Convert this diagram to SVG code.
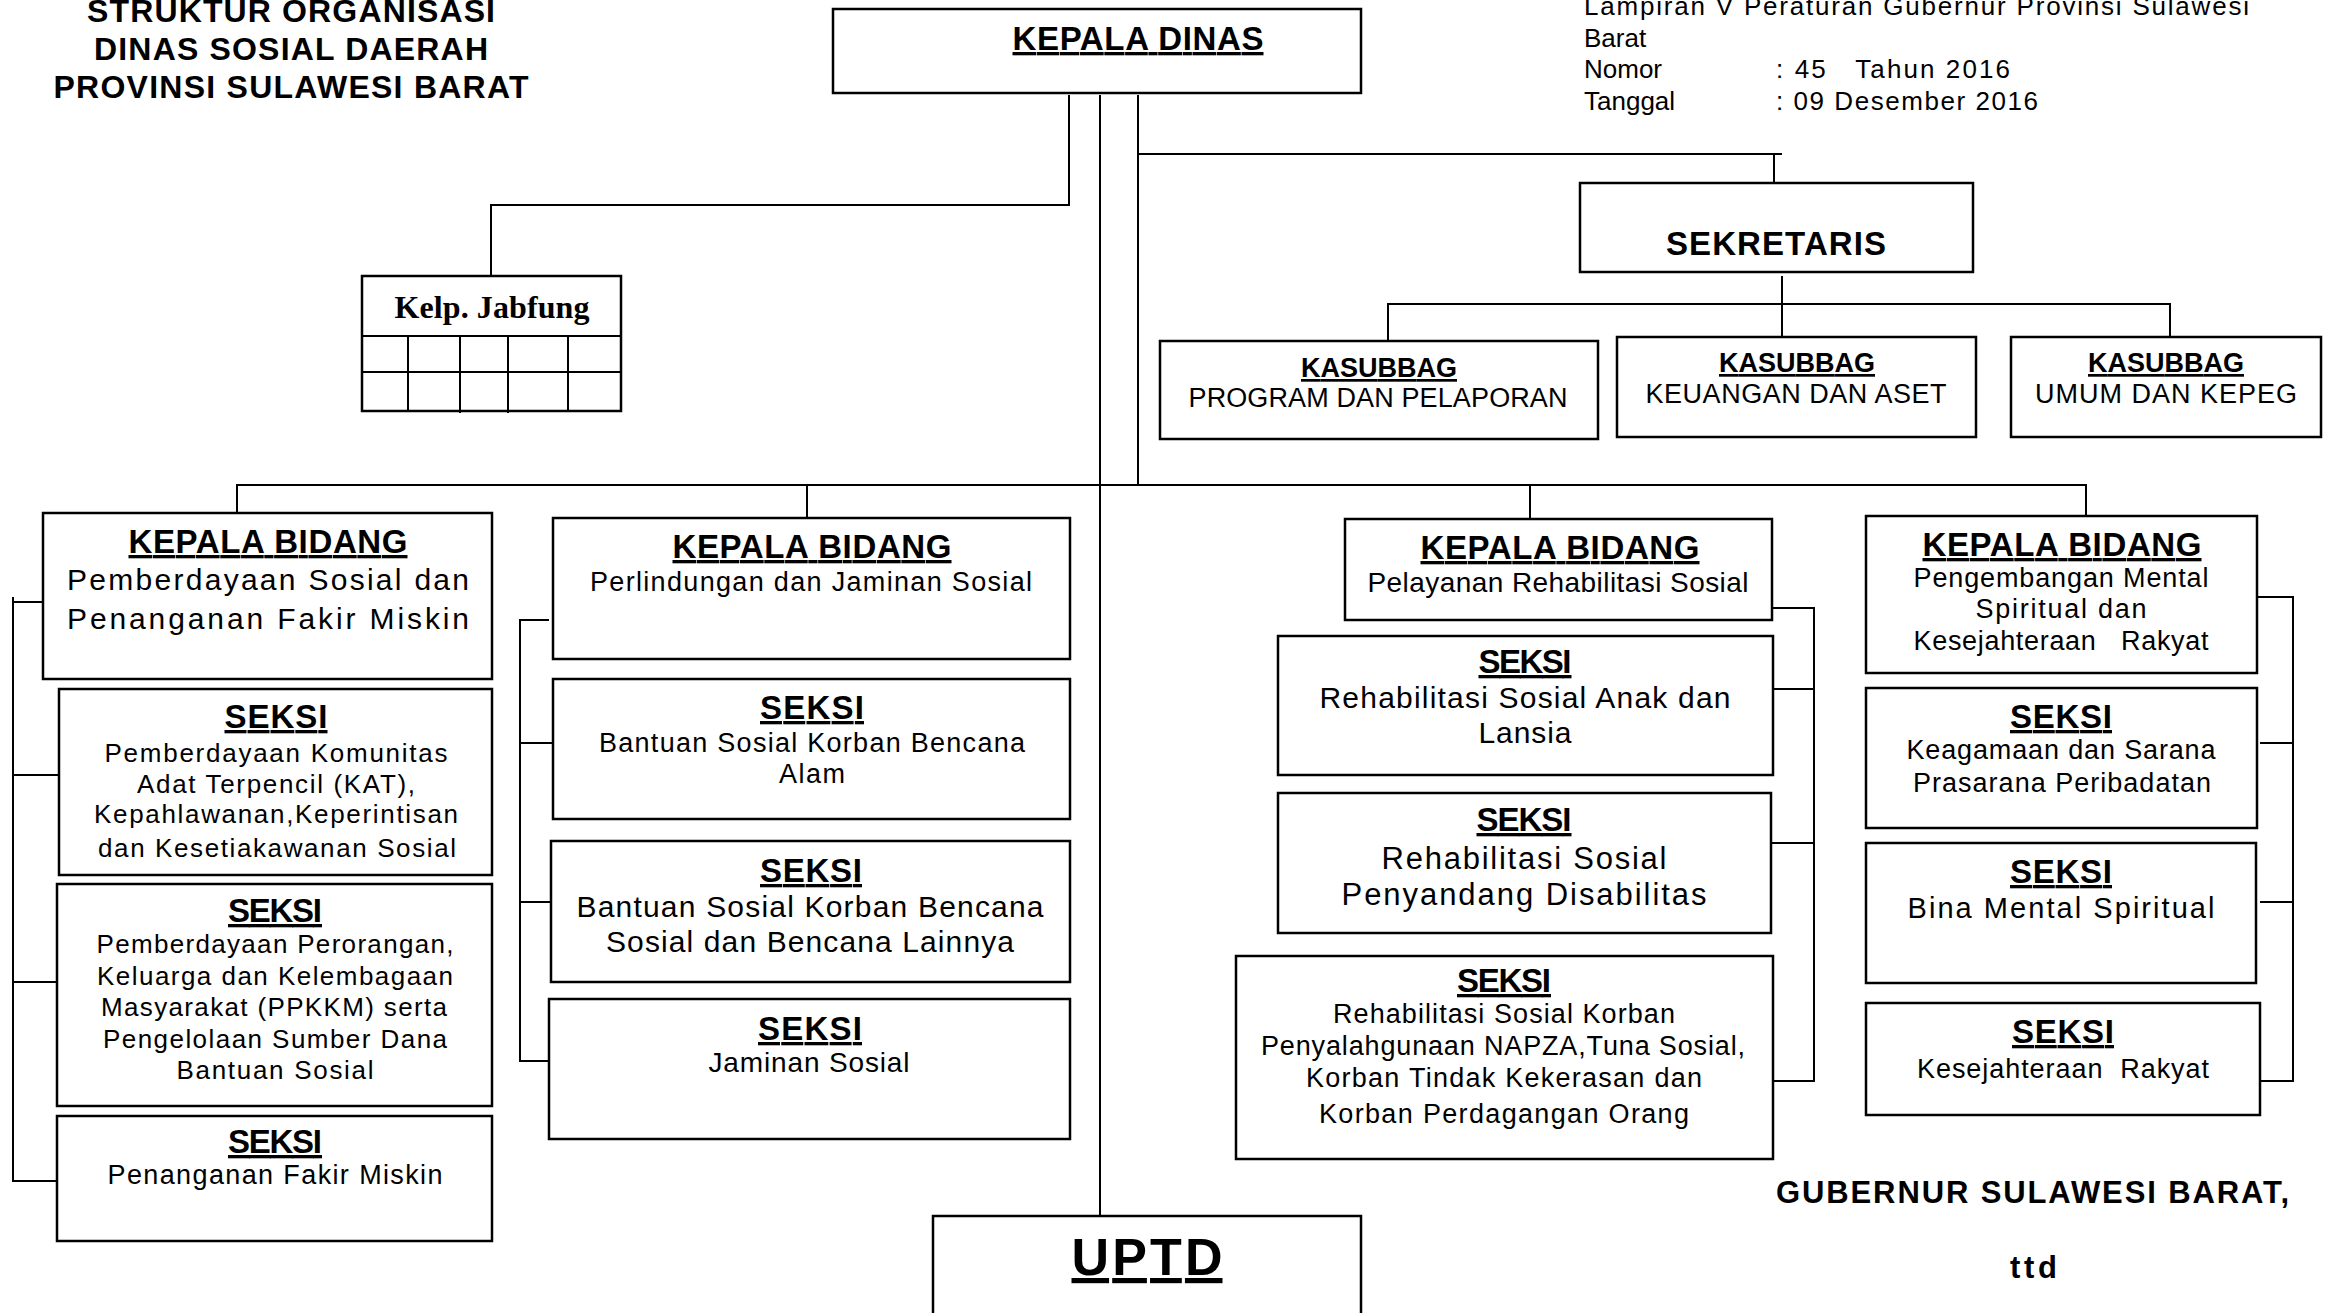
<svg xmlns="http://www.w3.org/2000/svg" width="2339" height="1313" viewBox="0 0 2339 1313">
<style>
.box{fill:#fff;stroke:#000;stroke-width:2.5}
.ln{fill:none;stroke:#000;stroke-width:2}
text{font-family:"Liberation Sans",Arial,sans-serif;fill:#000}
.c{text-anchor:middle}
.b{font-weight:bold}
.u{text-decoration:underline}
.hd{font-weight:bold;text-anchor:middle;text-decoration:underline;font-size:33px}
.kb{font-weight:bold;text-anchor:middle;text-decoration:underline;font-size:33px}
</style>
<rect width="2339" height="1313" fill="#fff"/>

<g id="connectors">
<path class="ln" d="M491 276 V205 H1069 V95"/>
<path class="ln" d="M1100 95 V1216"/>
<path class="ln" d="M1138 95 V485"/>
<path class="ln" d="M1138 154 H1782 M1774 154 V183"/>
<path class="ln" d="M1782 276 V337 M1388 341 V304 H2170 V337"/>
<path class="ln" d="M237 513 V485 H2086 V516 M807 485 V518 M1530 485 V519"/>
<path class="ln" d="M43 602 H13 M13 597 V1181 H57 M13 775 H59 M13 982 H57"/>
<path class="ln" d="M549 620 H520 V1061 H549 M520 743 H553 M520 902 H551"/>
<path class="ln" d="M1772 608 H1814 V1081 H1773 M1773 689 H1814 M1771 843 H1814"/>
<path class="ln" d="M2257 597 H2293 V1081 H2260 M2260 743 H2293 M2260 902 H2293"/>
</g>

<g id="title">
<text class="c b" x="291" y="22" font-size="32" textLength="408">STRUKTUR ORGANISASI</text>
<text class="c b" x="291" y="60" font-size="32" textLength="394">DINAS SOSIAL DAERAH</text>
<text class="c b" x="291" y="98" font-size="32" textLength="475">PROVINSI SULAWESI BARAT</text>
</g>

<g id="lampiran" font-size="26">
<text x="1584" y="15" textLength="665">Lampiran V Peraturan Gubernur Provinsi Sulawesi</text>
<text x="1584" y="47">Barat</text>
<text x="1584" y="78">Nomor</text>
<text x="1776" y="78" textLength="234" xml:space="preserve">: 45   Tahun 2016</text>
<text x="1584" y="110">Tanggal</text>
<text x="1776" y="110" textLength="262">: 09 Desember 2016</text>
</g>

<g id="kepala-dinas">
<rect class="box" x="833" y="9" width="528" height="84"/>
<text class="kb" x="1138" y="50" textLength="251">KEPALA DINAS</text>
</g>

<g id="kelp-jabfung">
<rect class="box" x="362" y="276" width="259" height="135"/>
<path class="ln" d="M362 336 H621 M362 372 H621 M408 336 V411 M460 336 V413 M508 336 V413 M568 336 V411"/>
<text class="c b" x="492" y="318" font-size="32" textLength="195" style="font-family:'Liberation Serif','Times New Roman',serif">Kelp. Jabfung</text>
</g>

<g id="sekretaris">
<rect class="box" x="1580" y="183" width="393" height="89"/>
<text class="c b" x="1776" y="255" font-size="33" textLength="220">SEKRETARIS</text>
</g>

<g id="kasubbag-program">
<rect class="box" x="1160" y="341" width="438" height="98"/>
<text class="c b u" x="1379" y="377" font-size="27" textLength="156">KASUBBAG</text>
<text class="c" x="1378" y="407" font-size="27" textLength="379">PROGRAM DAN PELAPORAN</text>
</g>

<g id="kasubbag-keuangan">
<rect class="box" x="1617" y="337" width="359" height="100"/>
<text class="c b u" x="1797" y="372" font-size="27" textLength="156">KASUBBAG</text>
<text class="c" x="1796" y="403" font-size="27" textLength="301">KEUANGAN DAN ASET</text>
</g>

<g id="kasubbag-umum">
<rect class="box" x="2011" y="337" width="310" height="100"/>
<text class="c b u" x="2166" y="372" font-size="27" textLength="156">KASUBBAG</text>
<text class="c" x="2166" y="403" font-size="27" textLength="262">UMUM DAN KEPEG</text>
</g>

<g id="kabid-pemberdayaan">
<rect class="box" x="43" y="513" width="449" height="166"/>
<text class="kb" x="268" y="553" textLength="279">KEPALA BIDANG</text>
<text class="c" x="268" y="590" font-size="30" textLength="402">Pemberdayaan Sosial dan</text>
<text class="c" x="268" y="629" font-size="30" textLength="402">Penanganan Fakir Miskin</text>
</g>

<g id="seksi-kat">
<rect class="box" x="59" y="689" width="433" height="186"/>
<text class="hd" x="276" y="728" textLength="103">SEKSI</text>
<text class="c" x="276" y="762" font-size="26" textLength="343">Pemberdayaan Komunitas</text>
<text class="c" x="276" y="793" font-size="26" textLength="278">Adat Terpencil (KAT),</text>
<text class="c" x="276" y="823" font-size="26" textLength="364">Kepahlawanan,Keperintisan</text>
<text class="c" x="277" y="857" font-size="26" textLength="358">dan Kesetiakawanan Sosial</text>
</g>

<g id="seksi-ppkkm">
<rect class="box" x="57" y="884" width="435" height="222"/>
<text class="hd" x="275" y="922" textLength="94">SEKSI</text>
<text class="c" x="275" y="953" font-size="26" textLength="357">Pemberdayaan Perorangan,</text>
<text class="c" x="275" y="985" font-size="26" textLength="356">Keluarga dan Kelembagaan</text>
<text class="c" x="274" y="1016" font-size="26" textLength="346">Masyarakat (PPKKM) serta</text>
<text class="c" x="275" y="1048" font-size="26" textLength="344">Pengelolaan Sumber Dana</text>
<text class="c" x="275" y="1079" font-size="26" textLength="197">Bantuan Sosial</text>
</g>

<g id="seksi-fakir-miskin">
<rect class="box" x="57" y="1116" width="435" height="125"/>
<text class="hd" x="275" y="1153" textLength="94">SEKSI</text>
<text class="c" x="275" y="1184" font-size="27" textLength="335">Penanganan Fakir Miskin</text>
</g>

<g id="kabid-perlindungan">
<rect class="box" x="553" y="518" width="517" height="141"/>
<text class="kb" x="812" y="558" textLength="279">KEPALA BIDANG</text>
<text class="c" x="811" y="591" font-size="27" textLength="442">Perlindungan dan Jaminan Sosial</text>
</g>

<g id="seksi-bencana-alam">
<rect class="box" x="553" y="679" width="517" height="140"/>
<text class="hd" x="812" y="719" textLength="104">SEKSI</text>
<text class="c" x="812" y="752" font-size="27" textLength="426">Bantuan Sosial Korban Bencana</text>
<text class="c" x="812" y="783" font-size="27" textLength="66">Alam</text>
</g>

<g id="seksi-bencana-sosial">
<rect class="box" x="551" y="841" width="519" height="141"/>
<text class="hd" x="811" y="882" textLength="102">SEKSI</text>
<text class="c" x="810" y="917" font-size="30" textLength="467">Bantuan Sosial Korban Bencana</text>
<text class="c" x="810" y="952" font-size="30" textLength="408">Sosial dan Bencana Lainnya</text>
</g>

<g id="seksi-jaminan">
<rect class="box" x="549" y="999" width="521" height="140"/>
<text class="hd" x="810" y="1040" textLength="104">SEKSI</text>
<text class="c" x="809" y="1072" font-size="28" textLength="201">Jaminan Sosial</text>
</g>

<g id="uptd">
<rect class="box" x="933" y="1216" width="428" height="120"/>
<text class="c b u" x="1147" y="1275" font-size="52" textLength="151">UPTD</text>
</g>

<g id="kabid-rehabilitasi">
<rect class="box" x="1345" y="519" width="427" height="101"/>
<text class="kb" x="1560" y="559" textLength="279">KEPALA BIDANG</text>
<text class="c" x="1558" y="592" font-size="28" textLength="381">Pelayanan Rehabilitasi Sosial</text>
</g>

<g id="seksi-anak-lansia">
<rect class="box" x="1278" y="636" width="495" height="139"/>
<text class="hd" x="1525" y="673" textLength="93">SEKSI</text>
<text class="c" x="1525" y="708" font-size="30" textLength="411">Rehabilitasi Sosial Anak dan</text>
<text class="c" x="1525" y="743" font-size="30" textLength="93">Lansia</text>
</g>

<g id="seksi-disabilitas">
<rect class="box" x="1278" y="793" width="493" height="140"/>
<text class="hd" x="1524" y="831" textLength="95">SEKSI</text>
<text class="c" x="1524" y="869" font-size="31" textLength="285">Rehabilitasi Sosial</text>
<text class="c" x="1524" y="905" font-size="31" textLength="365">Penyandang Disabilitas</text>
</g>

<g id="seksi-napza">
<rect class="box" x="1236" y="956" width="537" height="203"/>
<text class="hd" x="1504" y="992" textLength="94">SEKSI</text>
<text class="c" x="1504" y="1023" font-size="27" textLength="342">Rehabilitasi Sosial Korban</text>
<text class="c" x="1503" y="1055" font-size="27" textLength="484">Penyalahgunaan NAPZA,Tuna Sosial,</text>
<text class="c" x="1504" y="1087" font-size="27" textLength="396">Korban Tindak Kekerasan dan</text>
<text class="c" x="1504" y="1123" font-size="27" textLength="370">Korban Perdagangan Orang</text>
</g>

<g id="kabid-mental">
<rect class="box" x="1866" y="516" width="391" height="157"/>
<text class="kb" x="2062" y="556" textLength="279">KEPALA BIDANG</text>
<text class="c" x="2061" y="587" font-size="27" textLength="295">Pengembangan Mental</text>
<text class="c" x="2061" y="618" font-size="27" textLength="171">Spiritual dan</text>
<text class="c" x="2061" y="650" font-size="27" textLength="295" xml:space="preserve">Kesejahteraan   Rakyat</text>
</g>

<g id="seksi-keagamaan">
<rect class="box" x="1866" y="688" width="391" height="140"/>
<text class="hd" x="2061" y="728" textLength="102">SEKSI</text>
<text class="c" x="2061" y="759" font-size="27" textLength="309">Keagamaan dan Sarana</text>
<text class="c" x="2062" y="792" font-size="27" textLength="298">Prasarana Peribadatan</text>
</g>

<g id="seksi-bina-mental">
<rect class="box" x="1866" y="843" width="390" height="140"/>
<text class="hd" x="2061" y="883" textLength="102">SEKSI</text>
<text class="c" x="2061" y="918" font-size="29" textLength="307">Bina Mental Spiritual</text>
</g>

<g id="seksi-kesra">
<rect class="box" x="1866" y="1003" width="394" height="112"/>
<text class="hd" x="2063" y="1043" textLength="102">SEKSI</text>
<text class="c" x="2063" y="1078" font-size="27" textLength="292" xml:space="preserve">Kesejahteraan  Rakyat</text>
</g>

<g id="signature">
<text class="b" x="1776" y="1203" font-size="31" textLength="513">GUBERNUR SULAWESI BARAT,</text>
<text class="b" x="2010" y="1278" font-size="31" textLength="47">ttd</text>
</g>
</svg>
